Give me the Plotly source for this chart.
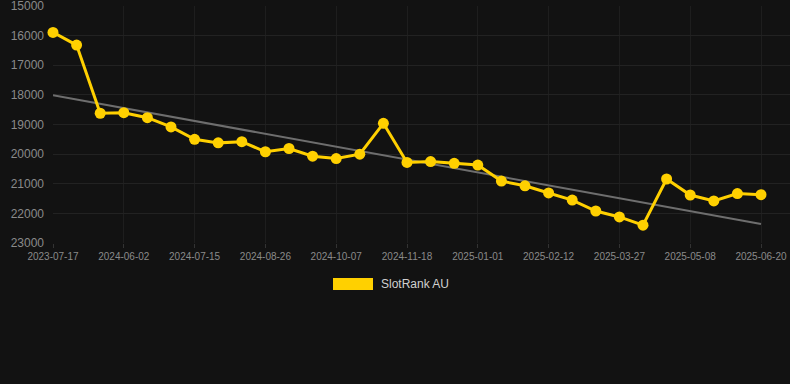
import plotly.graph_objects as go

dates = ["2023-07-17", "2024-05-05", "2024-05-19", "2024-06-02", "2024-06-16", "2024-06-30",
         "2024-07-15", "2024-07-29", "2024-08-12", "2024-08-26", "2024-09-09", "2024-09-23",
         "2024-10-07", "2024-10-21", "2024-11-04", "2024-11-18", "2024-12-02", "2024-12-16",
         "2025-01-01", "2025-01-15", "2025-01-29", "2025-02-12", "2025-02-26", "2025-03-12",
         "2025-03-27", "2025-04-10", "2025-04-24", "2025-05-08", "2025-05-22", "2025-06-05",
         "2025-06-20"]
ranks = [15890, 16320, 18620, 18600, 18770, 19080, 19500, 19620, 19580, 19920, 19810,
         20070, 20150, 20000, 18960, 20280, 20250, 20310, 20370, 20910, 21070, 21310,
         21550, 21920, 22120, 22400, 20840, 21380, 21580, 21330, 21370]
trend_x = [dates[0], dates[-1]]
trend_y = [18010, 22360]
tick_labels = ["2023-07-17", "2024-06-02", "2024-07-15", "2024-08-26", "2024-10-07",
               "2024-11-18", "2025-01-01", "2025-02-12", "2025-03-27", "2025-05-08",
               "2025-06-20"]
y_ticks = [15000, 16000, 17000, 18000, 19000, 20000, 21000, 22000, 23000]
series_name = "SlotRank AU"

YELLOW = "#FFD000"
BG = "#121212"

PLOT_L, PLOT_R, PLOT_T, PLOT_B = 53, 790, 6, 243
STEP = (761 - 53) / (len(dates) - 1)
x_max = (PLOT_R - PLOT_L) / STEP

fig = go.Figure()
fig.add_trace(go.Scatter(x=trend_x, y=trend_y, mode="lines",
                         line=dict(color="#6e6e6e", width=2), hoverinfo="skip",
                         showlegend=False))
fig.add_trace(go.Scatter(x=dates, y=ranks, mode="lines+markers", name=series_name,
                         line=dict(color=YELLOW, width=3),
                         marker=dict(color=YELLOW, size=11),
                         cliponaxis=False, showlegend=False))

W = PLOT_R - PLOT_L
H = PLOT_B - PLOT_T
fig.update_layout(
    width=790, height=384,
    paper_bgcolor=BG, plot_bgcolor=BG,
    margin=dict(l=PLOT_L, r=790 - PLOT_R, t=PLOT_T, b=384 - PLOT_B),
    font=dict(family="Liberation Sans, Arial, sans-serif", color="#8a8a8a"),
    xaxis=dict(type="category", categoryorder="array", categoryarray=dates,
               range=[0, x_max], tickvals=tick_labels, ticktext=tick_labels,
               showgrid=True, gridcolor="#1e1e1e", gridwidth=1, zeroline=False,
               showline=False, ticks="outside", ticklen=4, tickcolor="#333",
               tickfont=dict(size=10, color="#8a8a8a")),
    yaxis=dict(range=[23000, 14999.5], tickvals=y_ticks, tickformat="d",
               showgrid=True, gridcolor="#222222", gridwidth=1, zeroline=False,
               showline=False, ticklabelstandoff=8, ticklabeloverflow="allow",
               tickfont=dict(size=12, color="#8a8a8a")),
    shapes=[dict(type="rect", xref="paper", yref="paper",
                 x0=(333 - PLOT_L) / W, x1=(373 - PLOT_L) / W,
                 y0=(PLOT_B - 290) / H, y1=(PLOT_B - 278) / H,
                 fillcolor=YELLOW, line=dict(width=0))],
    annotations=[dict(text=series_name, xref="paper", yref="paper",
                      x=(379 - PLOT_L) / W, y=(PLOT_B - 284) / H,
                      xanchor="left", yanchor="middle", showarrow=False,
                      font=dict(size=12, color="#d0d0d0"))],
)

fig.write_html("out.html", config={"displayModeBar": False},
               post_script="document.body.style.margin='0';document.body.style.background='#121212';")
